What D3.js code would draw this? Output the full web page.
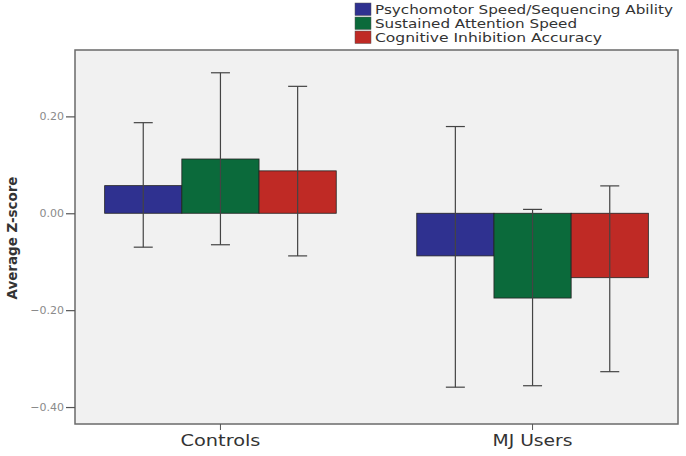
<!DOCTYPE html>
<html><head><meta charset="utf-8">
<script src="https://cdn.jsdelivr.net/npm/d3@7"></script>
<style>body{margin:0;background:#fff}svg{display:block}text{font-family:"DejaVu Sans",sans-serif}</style>
</head><body><svg id="c" width="686" height="456"></svg>
<script>
const groups = ["Controls", "MJ Users"];
const seriesNames = ["Psychomotor Speed/Sequencing Ability", "Sustained Attention Speed", "Cognitive Inhibition Accuracy"];
const seriesColors = ["#2f3190", "#0b6a3b", "#bf2a25"];
const means = [[0.057, 0.112, 0.0875], [-0.088, -0.175, -0.133]];
const errLow = [[-0.070, -0.065, -0.088], [-0.359, -0.356, -0.327]];
const errHigh = [[0.187, 0.290, 0.262], [0.179, 0.008, 0.0565]];
const yTicks = [0.20, 0.00, -0.20, -0.40];

const svg = d3.select("#c");
const L = 75, R = 678, T = 50, B = 424;
const y = d3.scaleLinear().domain([-0.435, 0.337]).range([B, T]);
const x0 = d3.scaleBand().domain(groups).range([L, R]).paddingInner(0.258).paddingOuter(0.095);
const x1 = d3.scaleBand().domain(seriesNames).range([0, x0.bandwidth()]);

svg.append("rect").attr("x", L).attr("y", T).attr("width", R - L).attr("height", B - T)
  .attr("fill", "#f1f1f1").attr("stroke", "#6a6a6a").attr("stroke-width", 1.5);

const g = svg.selectAll("g.grp").data(groups).join("g").attr("class","grp")
  .attr("transform", d => `translate(${x0(d)},0)`);
g.each(function(gname, gi){
  const sel = d3.select(this);
  seriesNames.forEach((s, si) => {
    const v = means[gi][si];
    sel.append("rect").attr("x", x1(s)).attr("width", x1.bandwidth())
      .attr("y", y(Math.max(0, v))).attr("height", Math.abs(y(v) - y(0)))
      .attr("fill", seriesColors[si]).attr("stroke", "#222").attr("stroke-width", 0.8);
  });
  seriesNames.forEach((s, si) => {
    const cx = x1(s) + x1.bandwidth() / 2;
    const lo = y(errLow[gi][si]), hi = y(errHigh[gi][si]);
    sel.append("line").attr("x1", cx).attr("x2", cx).attr("y1", hi).attr("y2", lo).attr("stroke", "#444").attr("stroke-width", 1.2);
    [lo, hi].forEach(yy => sel.append("line").attr("x1", cx - 9.5).attr("x2", cx + 9.5).attr("y1", yy).attr("y2", yy).attr("stroke", "#444").attr("stroke-width", 1.2));
  });
});

const yAxis = svg.append("g").attr("transform", `translate(${L},0)`)
  .call(d3.axisLeft(y).tickValues(yTicks).tickFormat(d3.format(".2f")).tickSize(9).tickSizeOuter(0));
yAxis.select(".domain").remove();
yAxis.selectAll("line").attr("stroke", "#555").attr("stroke-width", 1.2);
yAxis.selectAll("text").attr("fill", "#8a8a8a").style("font-size", "11px").attr("x", -11);

const xAxis = svg.append("g").attr("transform", `translate(0,${B})`)
  .call(d3.axisBottom(x0).tickSize(6).tickSizeOuter(0));
xAxis.select(".domain").remove();
xAxis.selectAll("line").attr("stroke", "#555");
xAxis.selectAll("text").attr("fill", "#333").style("font-size", "16px").attr("y", 11)
  .attr("textLength", 80).attr("lengthAdjust", "spacingAndGlyphs");

svg.append("text").attr("transform", `translate(17,${(T + B) / 2 + 1}) rotate(-90)`)
  .attr("text-anchor", "middle").style("font-size", "13.5px").style("font-weight", "bold").attr("fill", "#333")
  .attr("textLength", 123).attr("lengthAdjust", "spacingAndGlyphs")
  .text("Average Z-score");

const legWidths = [298, 202, 227];
const leg = svg.append("g").attr("transform", "translate(355,2)");
seriesNames.forEach((s, i) => {
  leg.append("rect").attr("x", 0).attr("y", i * 14 + 1).attr("width", 16).attr("height", 12.5)
    .attr("fill", seriesColors[i]).attr("stroke", "#555").attr("stroke-width", 0.5);
  leg.append("text").attr("x", 20).attr("y", i * 14 + 12).style("font-size", "12px").attr("fill", "#333")
    .attr("textLength", legWidths[i]).attr("lengthAdjust", "spacingAndGlyphs").text(s);
});
</script></body></html>
